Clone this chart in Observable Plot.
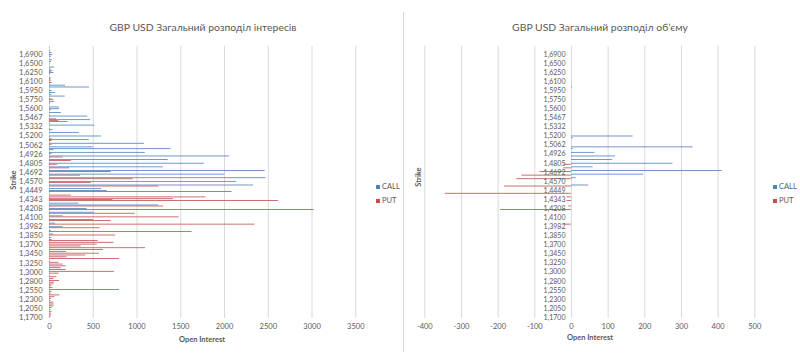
<!DOCTYPE html>
<html><head><meta charset="utf-8">
<script src="https://cdn.jsdelivr.net/npm/d3@7"></script>
<script src="https://cdn.jsdelivr.net/npm/@observablehq/plot@0.6"></script>
<style>
body{margin:0;background:#fff;}
#wrap{position:relative;width:800px;height:356px;font-family:Lato,"Open Sans",sans-serif;color:#595959;overflow:hidden;background:#fff}
.panel{position:absolute;top:0;width:400px;height:356px}
.t{position:absolute;white-space:nowrap;line-height:1}
.title{font-size:10.4px;transform:translate(-50%,-50%)}
.xlab{font-size:7.5px;font-weight:bold;transform:translate(-50%,-50%)}
.ylab{font-size:7.5px;font-weight:bold;transform:translate(-50%,-50%) rotate(-90deg)}
.leg{font-size:7.5px;transform:translateY(-50%)}
.sw{position:absolute;width:4px;height:4px;transform:translateY(-50%)}
#divider{position:absolute;left:403px;top:12px;width:1px;height:340px;background:#d9d9d9}
</style></head><body><div id="wrap"></div>
<script>
// strikes, top (highest) to bottom (lowest)
const strikes = [
"1,7500","1,7200","1,7100","1,7000","1,6900",
"1,6850","1,6800","1,6700","1,6600","1,6500",
"1,6450","1,6400","1,6350","1,6300","1,6250",
"1,6225","1,6200","1,6150","1,6125","1,6100",
"1,6075","1,6050","1,6025","1,6000","1,5950",
"1,5925","1,5900","1,5850","1,5800","1,5750",
"1,5725","1,5700","1,5650","1,5625","1,5600",
"1,5575","1,5550","1,5500","1,5475","1,5467",
"1,5460","1,5450","1,5400","1,5350","1,5332",
"1,5325","1,5300","1,5250","1,5225","1,5200",
"1,5175","1,5150","1,5100","1,5075","1,5062",
"1,5050","1,5000","1,4975","1,4950","1,4926",
"1,4925","1,4900","1,4850","1,4825","1,4805",
"1,4800","1,4750","1,4725","1,4700","1,4692",
"1,4675","1,4650","1,4600","1,4575","1,4570",
"1,4550","1,4500","1,4475","1,4450","1,4449",
"1,4425","1,4400","1,4375","1,4350","1,4343",
"1,4325","1,4300","1,4250","1,4225","1,4208",
"1,4200","1,4175","1,4150","1,4125","1,4100",
"1,4075","1,4050","1,4025","1,4000","1,3982",
"1,3975","1,3950","1,3900","1,3875","1,3850",
"1,3825","1,3800","1,3750","1,3725","1,3700",
"1,3650","1,3600","1,3550","1,3500","1,3450",
"1,3425","1,3400","1,3350","1,3300","1,3250",
"1,3200","1,3150","1,3100","1,3050","1,3000",
"1,2975","1,2950","1,2900","1,2850","1,2800",
"1,2750","1,2700","1,2650","1,2600","1,2550",
"1,2500","1,2450","1,2400","1,2350","1,2300",
"1,2250","1,2200","1,2150","1,2100","1,2050",
"1,2000","1,1950","1,1900","1,1800","1,1700"];

const strikeLabels = ["1,6900","1,6500","1,6250","1,6100","1,5950","1,5750","1,5600","1,5467","1,5332","1,5200",
"1,5062","1,4926","1,4805","1,4692","1,4570","1,4449","1,4343","1,4208","1,4100","1,3982",
"1,3850","1,3700","1,3450","1,3250","1,3000","1,2800","1,2550","1,2300","1,2050","1,1700"];

// Open interest
const callOI = [
5,0,11,30,38,23,0,34,23,5,
0,61,19,38,50,0,0,19,0,0,
0,183,457,5,34,68,27,179,0,50,
57,10,0,114,114,0,137,0,438,0,
470,213,5,520,0,10,0,340,0,595,
0,455,0,1085,0,500,1390,0,1095,0,
2059,0,1356,0,1770,0,1300,0,2465,0,
2005,0,2473,0,2135,0,2332,0,595,660,
0,0,0,0,724,0,335,1246,0,430,
0,510,0,156,0,503,0,69,0,156,
0,19,0,50,0,30,30,0,0,0,
0,0,0,0,0,0,0,0,10,0,
0,0,0,0,0,0,10,0,0,0,
0,0,0,0,0,0,0,0,0,0,
0,0,0,0,0,0,0,0,0,0];
const putOI = [
0,0,0,0,0,0,0,0,0,0,
0,0,0,5,19,11,0,0,19,19,
30,5,0,0,0,5,0,0,0,30,
0,5,0,0,0,19,0,0,11,0,
80,107,0,0,0,0,42,0,0,0,
10,30,30,0,30,0,0,50,0,30,
0,156,0,250,0,95,0,230,0,705,
0,355,0,956,0,476,0,1250,0,0,
2085,0,250,1789,1416,2617,0,0,1303,0,
3024,0,980,0,1480,0,705,0,2347,0,
580,0,1630,0,755,0,0,556,735,545,
362,1097,617,194,571,415,200,800,0,107,
156,190,133,190,743,110,0,84,50,114,
57,50,27,40,800,30,20,118,61,23,
15,50,53,50,30,15,30,20,25,15];

// Volume (PUT shown negative)
const callVol = [
0,0,0,0,0,0,0,0,0,0,
0,0,0,0,0,0,0,0,0,0,
0,0,3,0,0,0,0,0,0,0,
0,0,0,0,0,0,0,0,0,0,
0,0,0,0,0,0,0,0,0,168,
5,0,0,0,0,332,5,0,64,0,
120,0,112,0,277,0,59,0,411,0,
197,0,13,0,0,0,47,0,0,0,
0,0,0,0,0,0,0,0,0,0,
0,0,0,0,0,0,0,0,0,0,
0,0,0,0,0,0,0,0,0,0,
0,0,0,0,0,0,0,0,0,0,
0,0,0,0,0,0,0,0,0,0,
0,0,0,0,0,0,0,0,0,0,
0,0,0,0,0,0,0,0,0,0];
const putVol = [
0,0,0,0,0,0,0,0,0,0,
0,0,0,0,0,0,0,0,0,0,
0,0,0,0,0,0,0,0,0,0,
0,0,0,0,0,0,0,0,0,0,
0,0,0,0,0,0,0,0,0,0,
0,0,0,0,0,0,0,0,0,0,
0,0,0,0,0,-21,0,-21,0,-86,
0,-135,0,-149,0,0,0,-183,0,0,
0,-344,0,-12,0,-12,0,0,-7,0,
-194,0,0,0,0,0,0,0,-21,0,
0,0,0,0,0,0,0,0,0,0,
0,0,0,0,0,0,0,0,0,0,
0,0,0,0,0,0,0,0,0,0,
0,0,0,0,0,0,0,0,0,0,
0,0,0,0,0,0,0,0,0,0];

const xTicksOI = [0,500,1000,1500,2000,2500,3000,3500];
const xTicksVol = [-400,-300,-200,-100,0,100,200,300,400,500];
const series = ["CALL","PUT"];
const colors = {CALL:"#4F81BD", PUT:"#C0504D"};
const titles = ["GBP USD Загальний розподіл інтересів","GBP USD Загальний розподіл об’єму"];
const axisTitleX = "Open Interest", axisTitleY = "Strike";

const rows = strikes.map((s,i)=>({strike:s, callOI:callOI[i], putOI:putOI[i], callVol:callVol[i], putVol:putVol[i]}));

const font = 'Lato, "Open Sans", sans-serif';
const common = {width:400, height:356, marginTop:45.75, marginBottom:38,
  style:{fontFamily:font, fontSize:"7.5px", color:"#595959", background:"transparent", overflow:"visible"}};

const left = Plot.plot({...common, marginLeft:49, marginRight:44.7,
  x:{domain:[0,3500], ticks:xTicksOI, tickFormat:d=>String(d), tickSize:0, tickPadding:5, label:null},
  y:{type:"band", domain:strikes, padding:0, tickSize:0, tickPadding:7, label:null,
     tickFormat:d=>strikeLabels.includes(d)?d:""},
  marks:[
    Plot.ruleX(xTicksOI,{stroke:"#d9d9d9"}),
    Plot.barX(rows,{y:"strike", x:"putOI", fill:colors.PUT, insetTop:0.1, insetBottom:0.9}),
    Plot.barX(rows,{y:"strike", x:"callOI", fill:colors.CALL, insetTop:0.9, insetBottom:0.1})
  ]});

const right = Plot.plot({...common, marginLeft:24.3, marginRight:45.7,
  x:{domain:[-400,500], ticks:xTicksVol, tickFormat:d=>String(d), tickSize:0, tickPadding:5, label:null},
  y:{type:"band", domain:strikes, padding:0, axis:null},
  marks:[
    Plot.ruleX(xTicksVol,{stroke:"#d9d9d9"}),
    Plot.barX(rows,{y:"strike", x:"putVol", fill:colors.PUT, insetTop:0.1, insetBottom:0.9}),
    Plot.barX(rows,{y:"strike", x:"callVol", fill:colors.CALL, insetTop:0.9, insetBottom:0.1}),
    Plot.text(strikeLabels,{x:()=>0, y:d=>d, text:d=>d, textAnchor:"end", dx:-6, fill:"#595959", fontSize:7})
  ]});

const wrap = document.getElementById("wrap");
function panel(svg, x){const d=document.createElement("div");d.className="panel";d.style.left=x+"px";d.appendChild(svg);wrap.appendChild(d);}
panel(left,0); panel(right,400);
const dv=document.createElement("div"); dv.id="divider"; wrap.appendChild(dv);

function txt(cls, s, x, y){const e=document.createElement("div");e.className="t "+cls;e.textContent=s;e.style.left=x+"px";e.style.top=y+"px";wrap.appendChild(e);return e;}
txt("title", titles[0], 203, 27);
txt("title", titles[1], 600, 27);
txt("xlab", axisTitleX, 202, 340);
txt("xlab", axisTitleX, 590, 338);
txt("ylab", axisTitleY, 14, 180);
txt("ylab", axisTitleY, 419, 177);
function legend(x){
  series.forEach((s,k)=>{
    const y = 187 + k*13.5;
    const sw=document.createElement("div"); sw.className="sw"; sw.style.left=x+"px"; sw.style.top=y+"px"; sw.style.background=colors[s]; wrap.appendChild(sw);
    txt("leg", s, x+6, y);
  });
}
legend(376); legend(773);
</script></body></html>
